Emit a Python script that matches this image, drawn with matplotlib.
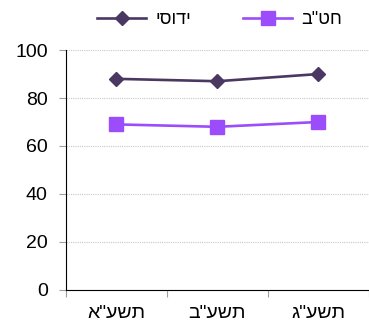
import matplotlib
matplotlib.use("Agg")
import matplotlib.pyplot as plt
from matplotlib.ticker import FixedLocator

plt.rcParams['font.family'] = ['Liberation Sans', 'DejaVu Sans']

categories = ['תשע"א', 'תשע"ב', 'תשע"ג']
series_names = ['יסודי', 'חט"ב']
yesodi = [88, 87, 90]
hativa = [69, 68, 70]

# The reference shows some labels with glyphs in logical order drawn left to right;
# this environment applies RTL layout, so those strings are reversed to match.
def flip(s):
    return s[::-1]

fig = plt.figure(figsize=(3.69, 3.25), dpi=100)
ax = fig.add_axes([0.178, 0.108, 0.822, 0.738])

x = list(range(len(categories)))
l1, = ax.plot(x, yesodi, color='#4b3862', marker='D', markersize=7.5, lw=1.9,
              label=series_names[0])
l2, = ax.plot(x, hativa, color='#9b4dfc', marker='s', markersize=10.5, lw=1.9,
              label=flip(series_names[1]))

ax.set_xlim(-0.5, 2.5)
ax.set_ylim(0, 100)
ax.set_yticks([0, 20, 40, 60, 80, 100])
ax.yaxis.grid(True, linestyle=(0, (1, 1)), color='#c8c8c8', lw=0.8)
ax.set_axisbelow(True)

ax.xaxis.set_major_locator(FixedLocator([-0.5, 0.5, 1.5, 2.5]))
ax.set_xticklabels([])
ax.xaxis.set_minor_locator(FixedLocator(x))
ax.set_xticklabels([flip(c) for c in categories], minor=True)
ax.tick_params(axis='x', which='minor', length=0, labelsize=14, pad=11)
ax.tick_params(axis='x', which='major', length=5, color='#a0a0a0', direction='out')
ax.tick_params(axis='y', length=5, color='#a0a0a0', labelsize=14, pad=8)

for s in ['top', 'right']:
    ax.spines[s].set_visible(False)
ax.spines['left'].set_color('black')
ax.spines['bottom'].set_color('black')

fig.legend(handles=[l1, l2], loc='center', bbox_to_anchor=(0.595, 0.94), ncol=2,
           frameon=False, fontsize=13, handlelength=2.7, columnspacing=2.9,
           markerfirst=True, handletextpad=0.5)

fig.savefig('out.png', dpi=100)
